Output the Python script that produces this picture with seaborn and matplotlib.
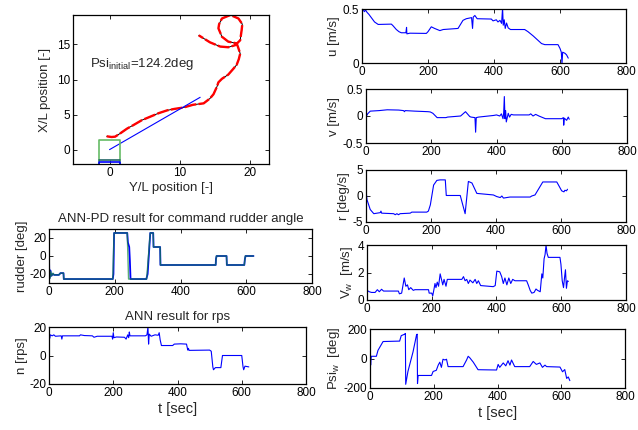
import matplotlib
matplotlib.use('Agg')
import matplotlib.pyplot as plt
import seaborn as sns

sns.set_theme(style='ticks')
plt.rcParams['font.family'] = ['Liberation Sans', 'DejaVu Sans']
plt.rcParams['axes.unicode_minus'] = False
plt.rcParams['mathtext.default'] = 'regular'

# ---------------- data ----------------
# trajectory (horizontal: Y/L, vertical: X/L)
traj_y = [-0.4, 0.3, 0.8, 1.5, 2.5, 3.4, 4.6, 5.8, 7.0, 8.2, 9.2, 10.5, 11.9, 13.4,
          14.3, 14.8, 15.3, 15.5, 16.0, 16.9, 17.6, 18.1, 18.4, 18.6, 18.3, 18.1,
          16.9, 16.0, 15.5, 15.6, 16.0, 17.2, 18.35, 18.9, 18.8, 18.6, 17.9, 16.9,
          15.75, 14.3, 12.7]
traj_x = [1.9, 1.8, 1.85, 2.3, 3.0, 3.5, 4.2, 4.7, 5.2, 5.6, 5.8, 6.0, 6.4, 6.6,
          7.3, 7.9, 9.0, 9.6, 10.1, 10.7, 11.5, 12.1, 12.9, 13.7, 14.6, 15.15,
          15.4, 16.1, 17.3, 17.9, 18.7, 19.2, 18.7, 17.9, 17.0, 15.6, 14.9, 14.6,
          14.7, 15.3, 16.3]
heading_y = [0.0, 12.9]
heading_x = [0.0, 7.46]
box_y = [-1.5, -1.5, 1.5, 1.5]
box_x = [-3.0, 1.4, 1.4, -3.0]
stern_y = [-1.5, 1.5]
stern_x = [-1.55, -1.55]
hull_y = [-1.5, -1.5, 1.5, 1.5]
hull_x = [-3.0, -1.8, -1.8, -3.0]

# command rudder angle
rud_t_ann = [0, 1, 4, 7, 12, 16, 30, 35, 44, 45, 194, 196, 198, 238, 240, 244, 246, 248,
             296, 300, 308, 317, 318, 338, 339, 507, 508, 510, 540, 541, 594, 596, 598, 622]
rud_ann = [0, -25, -16, -22, -20, -21, -21, -19, -19, -25.6, -25.6, -20, 25.6, 25.6, 15,
           10, -5, -25.6, -25.6, -20, 25.6, 25.6, 10, 10, -10, -10, -3, 0, 0, -10, -10,
           -3, 0, 0]
rud_t_pd = [0, 2, 5, 8, 12, 15, 30, 35, 44, 45, 194, 198, 238, 242, 297, 308, 317, 318,
            338, 339, 507, 509, 540, 541, 594, 597, 622]
rud_pd = [-2, -25, -17, -22, -19, -21, -21, -19, -19, -25.6, -25.6, 25.6, 25.6, -25.6,
          -25.6, 25.6, 25.6, 10, 10, -10, -10, 0, 0, -10, -10, 0, 0]

# propeller rps
rps_t = [0, 1, 2, 4, 10, 15, 20, 38, 40, 42, 95, 98, 110, 135, 140, 150, 196, 198, 200,
         202, 210, 235, 240, 245, 248, 250, 252, 300, 305, 308, 310, 312, 318, 330, 340,
         343, 346, 350, 385, 390, 410, 428, 432, 434, 436, 500, 505, 510, 512, 518, 535,
         540, 543, 600, 604, 606, 610, 622]
rps = [10, 15, 12, 14.5, 13.8, 14.5, 13.5, 13.8, 11.5, 13.8, 13.8, 14.5, 14, 13.8, 12.8,
       13.5, 13.5, 11.5, 16, 12.5, 13, 12.8, 11.5, 14.5, 12.5, 16.5, 13.8, 13.8, 14.5, 20,
       8, 15, 13.5, 14.5, 14.2, 16, 11, 7, 7, 8, 8.2, 8, 3.8, 5, 3.6, 3.8, 3, -8, -10,
       -8.5, -8.5, 0, 0, 0, -8, -10, -7.5, -8]

# surge speed u
u_t = [0, 3, 7, 11, 15, 21, 38, 49, 89, 94, 104, 112, 119, 133, 135, 136, 145, 195, 200,
       210, 220, 236, 246, 291, 306, 316, 332, 335, 337, 342, 349, 392, 397, 407, 412, 418,
       423, 426, 428, 431, 434, 438, 443, 450, 493, 503, 519, 544, 554, 594, 600, 604, 606,
       608, 615, 620, 625]
u = [0.48, 0.50, 0.475, 0.49, 0.47, 0.45, 0.38, 0.357, 0.36, 0.345, 0.31, 0.29, 0.28,
     0.28, 0.33, 0.27, 0.276, 0.274, 0.29, 0.335, 0.32, 0.30, 0.31, 0.32, 0.395, 0.41,
     0.42, 0.32, 0.425, 0.44, 0.41, 0.407, 0.39, 0.40, 0.38, 0.395, 0.367, 0.51, 0.35,
     0.40, 0.32, 0.37, 0.325, 0.31, 0.31, 0.29, 0.25, 0.18, 0.17, 0.17, 0.135, 0.10,
     -0.01, 0.10, 0.09, 0.075, 0.045]

# sway speed v
v_t = [0, 5, 13, 40, 65, 100, 115, 118, 120, 150, 190, 197, 205, 218, 245, 250, 290, 305,
       318, 322, 334, 336, 338, 345, 391, 400, 410, 415, 420, 422, 424, 426, 428, 430, 436,
       440, 445, 452, 500, 505, 512, 520, 530, 550, 600, 605, 606, 608, 615, 620, 623]
v = [-0.02, 0.04, 0.09, 0.10, 0.115, 0.11, 0.10, 0.08, 0.10, 0.09, 0.08, 0.075, 0.05,
     -0.03, -0.03, -0.02, 0.0, 0.08, -0.01, -0.02, -0.03, -0.30, -0.03, -0.02, 0.01, 0.02,
     0.0, 0.04, -0.05, 0.06, 0.36, -0.05, 0.10, -0.11, 0.05, -0.02, 0.03, 0.02, 0.02,
     0.04, 0.0, 0.03, 0.0, -0.05, -0.05, -0.03, -0.17, -0.04, -0.08, -0.02, -0.06]

# yaw rate r
r_t = [0, 3, 13, 24, 44, 46, 48, 85, 90, 95, 100, 105, 136, 141, 187, 192, 198, 208, 218,
       228, 244, 247, 290, 305, 315, 326, 341, 392, 402, 413, 418, 423, 443, 505, 510, 520,
       544, 587, 595, 602, 609, 612, 617, 620]
r = [1.2, -0.7, -2.6, -3.4, -3.2, -2.9, -3.3, -3.4, -3.6, -3.4, -3.6, -3.4, -3.3, -3.1,
     -3.1, -2.9, -1.7, 2.1, 3.0, 3.1, 3.1, 0.1, 0.1, -3.4, 2.8, 2.5, 0.5, 0.2, -0.1, -0.3,
     0.0, -0.4, -0.2, -0.2, 0.0, 0.2, 2.7, 2.7, 1.8, 1.0, 0.8, 1.1, 1.0, 1.3]

# wind speed Vw
vw_t = [0, 7, 14, 25, 32, 38, 45, 51, 97, 100, 107, 115, 120, 125, 129, 135, 143, 148,
        190, 192, 200, 203, 207, 210, 213, 217, 221, 226, 231, 234, 238, 244, 248, 293,
        298, 303, 308, 313, 318, 327, 334, 339, 344, 351, 390, 396, 401, 410, 416, 421,
        426, 432, 438, 444, 450, 457, 493, 498, 504, 509, 516, 522, 527, 535, 540, 543,
        547, 550, 553, 556, 560, 596, 599, 603, 607, 610, 613, 616, 619, 622]
vw = [0.7, 0.6, 0.55, 0.55, 0.75, 0.6, 0.78, 0.65, 0.65, 0.45, 0.5, 1.6, 1.0, 1.1, 0.75,
      0.9, 0.7, 0.75, 0.75, 0.5, 0.5, 0.3, 0.8, 1.2, 0.9, 1.3, 1.0, 1.9, 1.4, 1.1, 1.5,
      1.0, 1.5, 1.5, 1.7, 1.4, 1.5, 1.2, 1.45, 1.25, 1.5, 1.2, 1.4, 1.05, 0.97, 1.05, 2.1,
      2.05, 1.7, 1.2, 1.6, 1.1, 1.6, 1.2, 1.5, 1.4, 1.4, 1.1, 0.7, 0.5, 0.55, 0.8, 0.7,
      0.6, 1.9, 1.6, 3.0, 3.3, 4.0, 3.4, 3.1, 3.1, 2.6, 1.4, 0.9, 1.6, 2.2, 0.85, 1.4,
      1.35]

# wind direction Psi_w
psi_t = [0, 2, 4, 20, 25, 41, 93, 98, 109, 111, 112, 119, 135, 146, 148, 149, 151, 193,
         198, 208, 214, 219, 224, 229, 235, 240, 245, 292, 303, 308, 313, 324, 339, 397,
         402, 407, 418, 426, 433, 439, 444, 454, 501, 512, 522, 533, 541, 549, 554, 596,
         604, 611, 617, 622, 627]
psi = [60, -45, 15, 15, 55, 115, 118, 155, 165, 170, -175, -88, 45, 160, 165, -170, -115,
       -115, -88, -80, -45, -25, -60, -5, -10, -5, -55, -55, -10, 15, 5, -25, -76, -78,
       -40, -60, -30, -50, -15, -45, -10, -55, -55, -20, -40, -30, -60, -45, -55, -58,
       -90, -75, -135, -125, -150]

BLUE = '#0000ff'
GREEN = '#007f00'
FS = 8.5

W, H = 638, 430
fig = plt.figure(figsize=(W / 100, H / 100), dpi=100)
fig.patch.set_facecolor('white')


def ax_px(l, t, r, b):
    return fig.add_axes([l / W, 1 - b / H, (r - l) / W, (b - t) / H])


def style(ax, xlim, ylim, xticks, yticks, xtl=None, ytl=None):
    ax.set_xlim(*xlim)
    ax.set_ylim(*ylim)
    ax.set_xticks(xticks)
    ax.set_yticks(yticks)
    if xtl is not None:
        ax.set_xticklabels(xtl)
    if ytl is not None:
        ax.set_yticklabels(ytl)
    ax.tick_params(direction='in', top=True, right=True, length=3, width=0.6,
                   labelsize=FS, pad=2, colors='black')
    for s in ax.spines.values():
        s.set_visible(True)
        s.set_linewidth(0.9)
        s.set_color('black')
    ax.set_facecolor('white')
    ax.set_xlabel('')
    ax.set_ylabel('')
    leg = ax.get_legend()
    if leg:
        leg.remove()


def series(ax, x, y, color, lw=0.8, **kw):
    sns.lineplot(x=x, y=y, ax=ax, color=color, linewidth=lw, estimator=None,
                 sort=False, legend=False, **kw)


tt = [0, 200, 400, 600, 800]
ttl = ['0', '200', '400', '600', '800']

# trajectory
ax = ax_px(73, 15, 269, 164)
series(ax, traj_y, traj_x, 'black', lw=0.7)
series(ax, traj_y, traj_x, 'red', lw=1.7)
ax.lines[-1].set_dashes([5, 1])
series(ax, heading_y, heading_x, BLUE, lw=0.8)
series(ax, box_y, box_x, '#66bb66', lw=1.2)
series(ax, stern_y, stern_x, '#226666', lw=1.2)
series(ax, hull_y, hull_x, BLUE, lw=1.2)
style(ax, (-5.2, 22.7), (-2.05, 19.2), [0, 10, 20], [0, 5, 10, 15])
ax.set_xlabel('Y/L position [-]', fontsize=FS + 1, labelpad=2)
ax.set_ylabel('X/L position [-]', fontsize=FS + 1, labelpad=4)
ax.text(-2.85, 12.2, r'Psi$_{initial}$=124.2deg', fontsize=FS + 1, va='center',
        ha='left')

# rudder
ax = ax_px(49, 229, 312, 283)
series(ax, rud_t_ann, rud_ann, BLUE, lw=1.3)
series(ax, rud_t_pd, rud_pd, '#158a3a', lw=1.0, alpha=0.7)
style(ax, (0, 800), (-30, 30), tt, [-20, 0, 20], ttl, ['-20', '0', '20'])
ax.set_ylabel('rudder [deg]', fontsize=FS + 1, labelpad=1)
ax.set_title('ANN-PD result for command rudder angle', fontsize=FS + 1, pad=5)

# rps
ax = ax_px(49, 327, 306, 384)
series(ax, rps_t, rps, BLUE)
style(ax, (0, 800), (-20, 20), tt, [-20, 0, 20], ttl, ['-20', '0', '20'])
ax.set_ylabel('n [rps]', fontsize=FS + 1, labelpad=1)
ax.set_xlabel('t [sec]', fontsize=FS + 2, labelpad=2)
ax.set_title('ANN result for rps', fontsize=FS + 1, pad=5)

# u
ax = ax_px(362, 9, 626, 63)
series(ax, u_t, u, BLUE)
style(ax, (0, 800), (0, 0.5), tt, [0, 0.5], ttl, ['0', '0.5'])
ax.set_ylabel('u [m/s]', fontsize=FS + 1, labelpad=2)

# v
ax = ax_px(366, 89, 627, 143)
series(ax, v_t, v, BLUE)
style(ax, (0, 800), (-0.5, 0.5), tt, [-0.5, 0, 0.5], ttl, ['-0.5', '0', '0.5'])
ax.set_ylabel('v [m/s]', fontsize=FS + 1, labelpad=2)

# r
ax = ax_px(366, 170, 626, 222)
series(ax, r_t, r, BLUE)
style(ax, (0, 800), (-5, 5), tt, [-5, 0, 5], ttl, ['-5', '0', '5'])
ax.set_ylabel('r [deg/s]', fontsize=FS + 1, labelpad=2)

# Vw
ax = ax_px(367, 245, 626, 300)
series(ax, vw_t, vw, BLUE)
style(ax, (0, 800), (0, 4), tt, [0, 2, 4], ttl, ['0', '2', '4'])
ax.set_ylabel(r'V$_w$  [m/s]', fontsize=FS + 1, labelpad=2)

# Psi_w
ax = ax_px(370, 329, 625, 388)
series(ax, psi_t, psi, BLUE)
style(ax, (0, 800), (-200, 200), tt, [-200, 0, 200], ttl, ['-200', '0', '200'])
ax.set_ylabel(r'Psi$_w$  [deg]', fontsize=FS + 1, labelpad=1)
ax.set_xlabel('t [sec]', fontsize=FS + 2, labelpad=2)

fig.savefig('out.png', dpi=100, facecolor='white')
